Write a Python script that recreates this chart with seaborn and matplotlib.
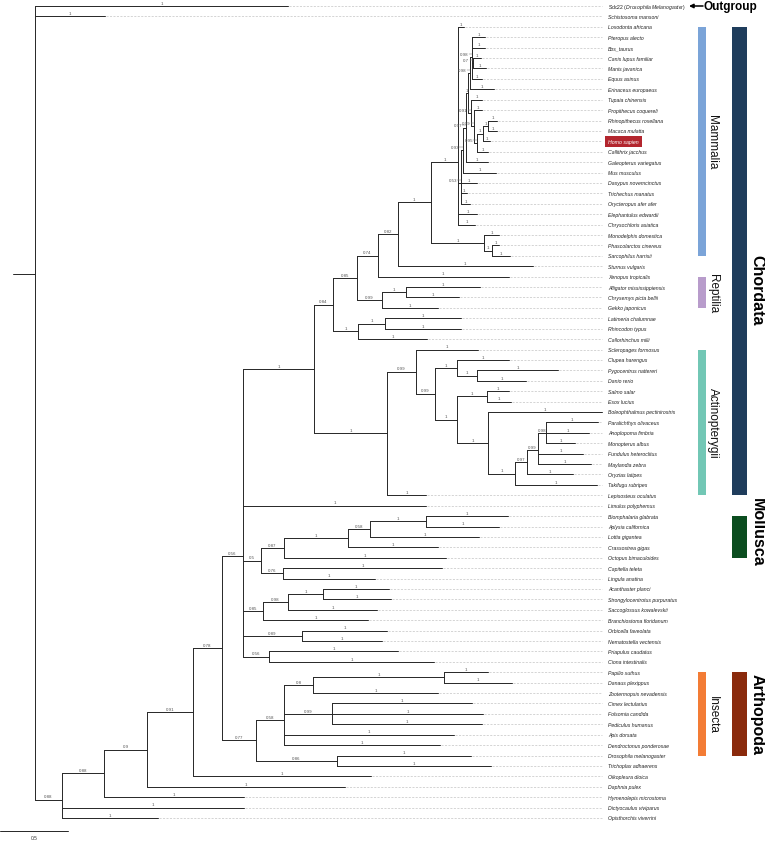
import matplotlib
matplotlib.use("Agg")
import numpy as np
import pandas as pd
import matplotlib.pyplot as plt
from matplotlib.patches import Rectangle
import seaborn as sns

# ---------- tree data (newick pieces, branch lengths in substitutions/site) ----------
PRIMATES = ("('Tupaia chinensis':0.081,('Propithecus coquereli':0.059,"
            "((('Rhinopithecus roxellana':0.066,'Macaca mulatta':0.066)1:0.037,"
            "'Homo sapien':0.051)1:0.044,'Callithrix jacchus':0.081)0.95:0.022)0.99:0.022)0.91")
LAURASIA = ("(('Pteropus alecto':0.096,'Bos_taurus':0.096,"
            "('Canis lupus familiar':0.059,'Manis javanica':0.096)0.7:0.007,"
            "'Equus asinus':0.074)0.98:0.015,'Erinaceus europaeus':0.176)0.98")
PLACENTALIA = ("('Loxodonta africana':0.044,"
               "((((" + LAURASIA + ":0.015," + PRIMATES + ":0.022)1:0.015,"
               "'Galeopterus variegatus':0.162)0.97:0.022,'Mus musculus':0.243)0.93:0.015,"
               "'Dasypus novemcinctus':0.118,'Trichechus manatus':0.044,"
               "'Orycteropus afer afer':0.066)0.53:0.022,"
               "'Elephantulus edwardii':0.140,'Chrysochloris asiatica':0.125)1")
MAMMALIA = ("(" + PLACENTALIA + ":0.199,('Monodelphis domestica':0.110,"
            "('Phascolarctos cinereus':0.051,'Sarcophilus harrisii':0.132)1:0.059)1:0.390)1")
TETRAPODA = ("(((" + MAMMALIA + ":0.243,'Sturnus vulgaris':0.993)0.82:0.147,"
             "'Xenopus tropicalis':0.963)0.74:0.154,"
             "(('Alligator mississippiensis':0.544,'Chrysemys picta bellii':0.390)1:0.176,"
             "'Gekko japonicus':0.412)0.99:0.184)0.85")
VERTEBRATA = ("(" + TETRAPODA + ":0.176,(('Latimeria chalumnae':0.559,'Rhincodon typus':0.559)1:0.199,"
              "'Callorhinchus milii':0.507)1:0.184)0.84")
PERCOMORPHA = ("(((('Paralichthys olivaceus':0.382,'Anoplopoma fimbria':0.316,'Monopterus albus':0.213)0.98:0.059,"
               "'Fundulus heteroclitus':0.331,'Maylandia zebra':0.390)0.99:0.081,"
               "'Oryzias latipes':0.338)0.97:0.088,'Takifugu rubripes':0.603)1")
ACTINOPTERYGII = ("(('Scleropages formosus':0.456,"
                  "(('Clupea harengus':0.382,('Pygocentrus nattereri':0.596,'Danio rerio':0.360)1:0.147)1:0.162,"
                  "(('Salmo salar':0.162,'Esox lucius':0.176)1:0.221,"
                  "('Boleophthalmus pectinirostris':0.838," + PERCOMORPHA + ":0.199)1:0.228)1:0.162)0.99:0.140)0.99:0.213,"
                  "'Lepisosteus oculatus':0.287)1")
CHORDATA = "(" + VERTEBRATA + ":0.140," + ACTINOPTERYGII + ":0.537)1"
LOPHOTROCHOZOA = ("((((('Biomphalaria glabrata':0.603,'Aplysia californica':0.537)1:0.412,"
                  "'Lottia gigantea':0.801)0.58:0.162,'Crassostrea gigas':0.662)1:0.471,"
                  "'Octopus bimaculoides':1.191)0.87:0.169,"
                  "('Capitella teleta':1.169,'Lingula anatina':0.676)0.76:0.162)0.5")
DEUTEROSTOMIA = ("((('Acanthaster planci':0.485,'Strongylocentrotus purpuratus':0.500)1:0.257,"
                 "'Saccoglossus kowalevskii':0.654)0.98:0.184,'Branchiostoma floridanum':0.772)0.85")
BILATERIA = ("(" + CHORDATA + ":0.522,'Limulus polyphemus':1.346," + LOPHOTROCHOZOA + ":0.132,"
             + DEUTEROSTOMIA + ":0.147,('Orbicella faveolata':0.625,'Nematostella vectensis':0.588)0.89:0.434,"
             "('Priapulus caudatus':0.949,'Ciona intestinalis':1.213)0.56:0.191)0.56")
INSECTA = ("(((('Papilio xuthus':0.324,'Danaus plexippus':0.500)1:0.963,'Zootermopsis nevadensis':0.919)0.8:0.213,"
           "('Cimex lectularius':1.029,'Folsomia candida':1.110,'Pediculus humanus':1.103)0.99:0.353,"
           "'Apis dorsata':1.250,'Dendroctonus ponderosae':1.147)0.58:0.206,"
           "('Drosophila melanogaster':0.985,'Trichoplax adhaerens':1.132)0.86:0.596)0.77")
INGROUP = ("(((((" + BILATERIA + ":0.154," + INSECTA + ":0.250)0.78:0.213,'Oikopleura dioica':1.309)0.91:0.338,"
           "'Daphnia pulex':1.456)0.9:0.316,'Hymenolepis microstoma':1.029)0.88:0.309,"
           "'Dictyocaulus viviparus':1.338,'Opisthorchis viverrini':0.706)0.88")
TREE = ("('Sdc22 (Drosophila Melanogaster)':1.860,'Schistosoma mansoni':0.515,"
        + INGROUP + ":0.199):0.162;")
TIP_SUPPORT = "1"
HIGHLIGHT = "Homo sapien"
OUTGROUP = "Sdc22 (Drosophila Melanogaster)"

# clade bars
INNER_NAMES = ["Mammalia", "Reptilia", "Actinopterygii", "Insecta"]
INNER_FIRST = ["Loxodonta africana", "Xenopus tropicalis", "Scleropages formosus", "Papilio xuthus"]
INNER_LAST = ["Sarcophilus harrisii", "Gekko japonicus", "Lepisosteus oculatus", "Drosophila melanogaster"]
INNER_COLORS = ["#7ba4d8", "#b89ccb", "#72c7b5", "#f37c35"]
OUTER_NAMES = ["Chordata", "Mollusca", "Arthopoda"]
OUTER_FIRST = ["Loxodonta africana", "Biomphalaria glabrata", "Papilio xuthus"]
OUTER_LAST = ["Lepisosteus oculatus", "Octopus bimaculoides", "Drosophila melanogaster"]
OUTER_COLORS = ["#1f3d5c", "#0b4d1f", "#8a2a0c"]
SCALE_LEN = 0.5

# ---------- layout constants (pixels) ----------
PX_PER_UNIT = 136.0
ROOT_PX = 35.0
LEAF_PX = 10.41
FIRST_LEAF_PX = 7.0
W, H = 765, 845


def px2x(px):
    return (px - ROOT_PX) / PX_PER_UNIT


def parse_newick(text):
    pos = 0

    def node():
        nonlocal pos
        n = {"name": None, "support": None, "length": 0.0, "children": []}
        if text[pos] == "(":
            pos += 1
            while True:
                n["children"].append(node())
                ch = text[pos]
                pos += 1
                if ch == ")":
                    break
            start = pos
            while text[pos] not in ":,);":
                pos += 1
            n["support"] = text[start:pos] or None
        elif text[pos] == "'":
            end = text.index("'", pos + 1)
            n["name"] = text[pos + 1:end]
            pos = end + 1
        if text[pos] == ":":
            pos += 1
            start = pos
            while text[pos] not in ",);":
                pos += 1
            n["length"] = float(text[start:pos])
        return n

    return node()


root = parse_newick(TREE)
tips = []


def layout(n, x):
    n["x"] = x
    if n["children"]:
        for c in n["children"]:
            layout(c, x + c["length"])
        n["y"] = float(np.mean([c["y"] for c in n["children"]]))
    else:
        n["y"] = float(len(tips))
        tips.append(n)


layout(root, 0.0)

segs = [(-root["length"], 0.0, root["y"], root["y"])]
branches = []


def collect(n, parent=None):
    if parent is not None:
        segs.append((parent["x"], n["x"], n["y"], n["y"]))
        branches.append((parent, n))
    if n["children"]:
        ys = [c["y"] for c in n["children"]]
        segs.append((n["x"], n["x"], min(ys), max(ys)))
        for c in n["children"]:
            collect(c, n)


collect(root)

rows = []
for i, (x0, x1, y0, y1) in enumerate(segs):
    rows.append({"seg": i, "x": x0, "y": y0})
    rows.append({"seg": i, "x": x1, "y": y1})
seg_df = pd.DataFrame(rows)

# ---------- plot ----------
sns.set_theme(style="white")
plt.rcParams["font.family"] = ["Liberation Sans", "DejaVu Sans"]
plt.rcParams["mathtext.fontset"] = "custom"
plt.rcParams["mathtext.rm"] = "Liberation Sans"
plt.rcParams["mathtext.it"] = "Liberation Sans:italic"

fig = plt.figure(figsize=(W / 100, H / 100), dpi=100)
ax = fig.add_axes([0, 0, 1, 1])

sns.lineplot(data=seg_df, x="x", y="y", units="seg", estimator=None, sort=False,
             color="#262626", linewidth=0.7, legend=False, ax=ax)

dy = 1.0 / LEAF_PX
dx = 1.0 / PX_PER_UNIT
tip_end = max(t["x"] for t in tips)
label_x = tip_end + 6 * dx

# dotted guides from tips to labels
for t in tips:
    if tip_end - t["x"] > 2 * dx:
        ax.plot([t["x"] + dx, tip_end], [t["y"], t["y"]], color="#c4c4c4",
                lw=0.5, linestyle=(0, (3, 2)), zorder=0)

# support values
for parent, n in branches:
    lab = n["support"] if n["children"] else TIP_SUPPORT
    if lab is None:
        continue
    blen_px = (n["x"] - parent["x"]) * PX_PER_UNIT
    if n["children"] and lab != "1" and blen_px < 5:
        tx = n["x"] - 4 * dx
        ax.plot([tx + 0.5 * dx, n["x"]], [n["y"] - 3 * dy, n["y"] - 3 * dy],
                color="#777777", lw=0.35)
        ax.text(tx, n["y"] - 3 * dy, lab, ha="right", va="center",
                fontsize=3.2, color="#555555")
    else:
        ax.text((parent["x"] + n["x"]) / 2, n["y"] - 1.2 * dy, lab, ha="center",
                va="bottom", fontsize=3.2, color="#555555")

# tip labels
for t in tips:
    name = t["name"]
    if name == OUTGROUP:
        ax.text(label_x, t["y"], r"Sdc22 ($\mathit{Drosophila\ Melanogaster}$)",
                ha="left", va="center", fontsize=3.7, color="#222222")
    elif name == HIGHLIGHT:
        ax.text(label_x, t["y"], name, ha="left", va="center", fontsize=3.8,
                style="italic", color="white",
                bbox=dict(boxstyle="square,pad=0.55", fc="#b3262e", ec="none"))
    else:
        ax.text(label_x, t["y"], name, ha="left", va="center", fontsize=3.7,
                style="italic", color="#222222")

# outgroup arrow
ax.annotate("", xy=(px2x(689), 0), xytext=(px2x(703), 0),
            arrowprops=dict(arrowstyle="-|>", color="black", lw=1.1, mutation_scale=6,
                            shrinkA=0, shrinkB=0))
ax.text(px2x(704), 0, "Outgroup", ha="left", va="center", fontsize=8.5,
        fontweight="bold", color="black")

tip_y = {t["name"]: t["y"] for t in tips}

# inner clade bars
for name, first, last, col in zip(INNER_NAMES, INNER_FIRST, INNER_LAST, INNER_COLORS):
    y0, y1 = tip_y[first], tip_y[last]
    ax.add_patch(Rectangle((px2x(698), y0), 8 * dx, y1 - y0, fc=col, ec="none"))
    ax.text(px2x(712.5), (y0 + y1) / 2, name, rotation=270, ha="center", va="center",
            fontsize=8.5, color="#111111")

# outer clade bars
text_shift = {"Chordata": 2.7, "Mollusca": -0.5, "Arthopoda": 0.0}
for name, first, last, col in zip(OUTER_NAMES, OUTER_FIRST, OUTER_LAST, OUTER_COLORS):
    y0, y1 = tip_y[first], tip_y[last]
    ax.add_patch(Rectangle((px2x(732), y0), 15 * dx, y1 - y0, fc=col, ec="none"))
    ax.text(px2x(757), (y0 + y1) / 2 + text_shift[name], name, rotation=270,
            ha="center", va="center", fontsize=11.5, fontweight="bold", color="black")

# scale bar
x_left = -ROOT_PX / PX_PER_UNIT
y_bar = (832 - FIRST_LEAF_PX) / LEAF_PX
ax.plot([x_left, x_left + SCALE_LEN], [y_bar, y_bar], color="#262626", lw=0.7)
ax.text(x_left + SCALE_LEN / 2, y_bar + 7 * dy, "0.5", ha="center", va="center",
        fontsize=3.5, color="#333333")

ax.set_xlim(x_left, (W - ROOT_PX) / PX_PER_UNIT)
ax.set_ylim((H - FIRST_LEAF_PX) / LEAF_PX, -FIRST_LEAF_PX / LEAF_PX)
ax.axis("off")

fig.savefig("out.png", dpi=100)
